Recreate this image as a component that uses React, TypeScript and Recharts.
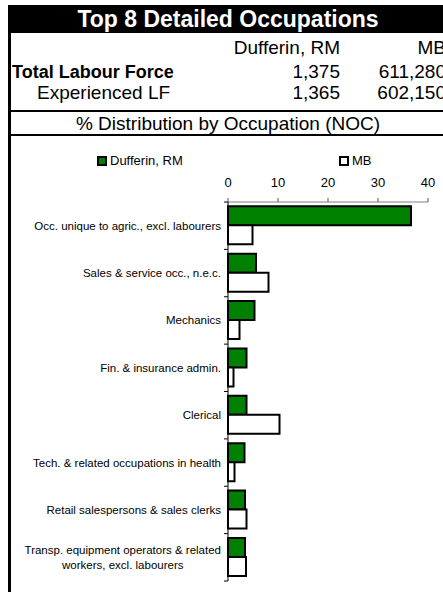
import React from 'react'
import { BarChart, Bar, XAxis, YAxis, Legend } from 'recharts'

const title = 'Top 8 Detailed Occupations'
const regions = ['Dufferin, RM', 'MB']
const totalLabourForce = ['1,375', '611,280']
const experiencedLF = ['1,365', '602,150']
const subtitle = '% Distribution by Occupation (NOC)'

const occupations = [
  'Occ. unique to agric., excl. labourers',
  'Sales & service occ., n.e.c.',
  'Mechanics',
  'Fin. & insurance admin.',
  'Clerical',
  'Tech. & related occupations in health',
  'Retail salespersons & sales clerks',
  'Transp. equipment operators & related\nworkers, excl. labourers',
]
const dufferinPct = [36.6, 5.6, 5.3, 3.7, 3.7, 3.3, 3.4, 3.4]
const mbPct = [4.9, 8.1, 2.3, 1.1, 10.3, 1.3, 3.7, 3.6]
const xTicks = [0, 10, 20, 30, 40]

const FONT = '"Liberation Sans", Arial, sans-serif'
const AXIS_X = 220 // plot left inside the chart svg

const data = occupations.map((name, i) => ({
  name,
  dufferin: dufferinPct[i],
  mb: mbPct[i],
}))

let ctx: CanvasRenderingContext2D | null = null
function textWidth(s: string, font: string) {
  if (!ctx) ctx = document.createElement('canvas').getContext('2d')
  if (!ctx) return s.length * 5.5
  ctx.font = font
  return ctx.measureText(s).width
}

// Excel style category tick: marks on band edges, multi-line labels centred
function CategoryTick({ y, payload, index }: any) {
  const half = payload.offset || 0
  const lines = String(payload.value).split('\n')
  const right = AXIS_X - 7
  const lineH = 15
  const fontSize = 11.5
  const maxW = Math.max(...lines.map(l => textWidth(l, `${fontSize}px ${FONT}`)))
  const multi = lines.length > 1
  const startY = y - ((lines.length - 1) * lineH) / 2
  return (
    <g>
      <line x1={AXIS_X - 4} x2={AXIS_X} y1={y - half} y2={y - half} stroke="#000" />
      {index === occupations.length - 1 && (
        <line x1={AXIS_X - 4} x2={AXIS_X} y1={y + half} y2={y + half} stroke="#000" />
      )}
      {lines.map((l, i) => (
        <text
          key={i}
          x={multi ? right - maxW / 2 : right}
          y={startY + i * lineH}
          dy="0.35em"
          textAnchor={multi ? 'middle' : 'end'}
          fontSize={fontSize}
          fontFamily={FONT}
          fill="#000"
        >
          {l}
        </text>
      ))}
    </g>
  )
}

function LegendContent() {
  const item = (left: number, fill: string, label: string) => (
    <div style={{ position: 'absolute', left, top: 0, display: 'flex', alignItems: 'center' }}>
      <span style={{ width: 6, height: 6, border: '2px solid #000', background: fill, marginRight: 3 }} />
      <span style={{ fontSize: 13, fontFamily: FONT, color: '#000', lineHeight: '16px' }}>{label}</span>
    </div>
  )
  return (
    <div style={{ position: 'relative', width: 440, height: 16 }}>
      {item(89, '#008000', regions[0])}
      {item(331, '#ffffff', regions[1])}
    </div>
  )
}

export default function App() {
  const headerText: React.CSSProperties = {
    position: 'absolute',
    fontFamily: FONT,
    fontSize: 19,
    lineHeight: '20px',
    color: '#000',
    whiteSpace: 'nowrap',
  }
  return (
    <div
      style={{
        position: 'absolute',
        left: 0,
        top: 0,
        width: 443,
        height: 592,
        overflow: 'hidden',
        background: '#fff',
      }}
    >
      {/* title bar */}
      <div
        style={{
          position: 'absolute',
          left: 8,
          top: 5,
          width: 440,
          height: 28,
          background: '#000',
          color: '#fff',
          fontFamily: FONT,
          fontWeight: 'bold',
          fontSize: 23,
          lineHeight: '28px',
          textAlign: 'center',
        }}
      >
        {title}
      </div>
      {/* left border */}
      <div style={{ position: 'absolute', left: 8, top: 5, width: 3, height: 600, background: '#000' }} />

      <div style={{ ...headerText, right: 443 - 340, top: 38 }}>{regions[0]}</div>
      <div style={{ ...headerText, right: -3, top: 38 }}>{regions[1]}</div>

      <div style={{ ...headerText, left: 12, top: 62, fontWeight: 'bold', fontSize: 18 }}>Total Labour Force</div>
      <div style={{ ...headerText, right: 443 - 340, top: 62 }}>{totalLabourForce[0]}</div>
      <div style={{ ...headerText, right: -3, top: 62 }}>{totalLabourForce[1]}</div>

      <div style={{ ...headerText, left: 37, top: 83 }}>Experienced LF</div>
      <div style={{ ...headerText, right: 443 - 340, top: 83 }}>{experiencedLF[0]}</div>
      <div style={{ ...headerText, right: -3, top: 83 }}>{experiencedLF[1]}</div>

      <div style={{ position: 'absolute', left: 8, top: 110, width: 440, height: 2, background: '#000' }} />
      <div style={{ ...headerText, left: 8, width: 440, textAlign: 'center', top: 114 }}>{subtitle}</div>
      <div style={{ position: 'absolute', left: 8, top: 134, width: 440, height: 2, background: '#000' }} />

      <div style={{ position: 'absolute', left: 8, top: 140 }}>
        <BarChart
          width={440}
          height={452}
          data={data}
          layout="vertical"
          margin={{ top: 32, right: 20, bottom: 11, left: 0 }}
          barCategoryGap="9%"
          barGap={0}
        >
          <XAxis
            type="number"
            orientation="top"
            domain={[0, 40]}
            ticks={xTicks}
            height={30}
            axisLine={{ stroke: '#808080' }}
            tickLine={{ stroke: '#555' }}
            tickSize={4}
            tickMargin={11}
            tick={{ fontSize: 13, fontFamily: FONT, fill: '#000' }}
          />
          <YAxis
            type="category"
            dataKey="name"
            width={220}
            axisLine={{ stroke: '#000' }}
            tickLine={false}
            tick={<CategoryTick />}
            interval={0}
          />
          <Legend
            verticalAlign="middle"
            align="center"
            layout="horizontal"
            wrapperStyle={{ top: 13, left: 0, width: 440, height: 16 }}
            content={() => <LegendContent />}
          />
          <Bar dataKey="dufferin" name={regions[0]} fill="#008000" stroke="#000" strokeWidth={2} isAnimationActive={false} />
          <Bar dataKey="mb" name={regions[1]} fill="#ffffff" stroke="#000" strokeWidth={2} isAnimationActive={false} />
        </BarChart>
      </div>
    </div>
  )
}
